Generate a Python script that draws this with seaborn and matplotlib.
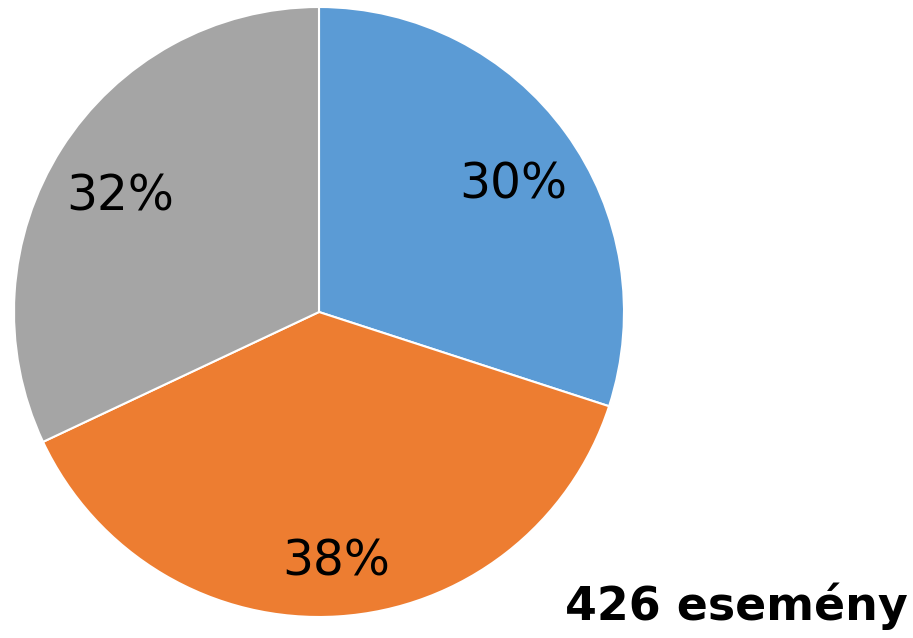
import matplotlib
matplotlib.use("Agg")
import matplotlib.pyplot as plt
import matplotlib.transforms as mtransforms
import seaborn as sns

sns.set_theme(style="white")
plt.rcParams['font.family'] = ['DejaVu Sans']

categories = ["A", "B", "C"]
values = [30, 38, 32]
colors = ["#5B9BD5", "#ED7D31", "#A5A5A5"]
total_label = "426 esemény"

fig = plt.figure(figsize=(9.13, 6.38), dpi=100)
ax = fig.add_axes([14/913, 21/638, 610/913, 610/638])
wedges, texts, autotexts = ax.pie(
    values, colors=colors, startangle=90, counterclock=False,
    autopct=lambda p: f"{p:.0f}%", pctdistance=0.78,
    wedgeprops=dict(edgecolor="white", linewidth=1.5),
    textprops=dict(fontsize=35, color="black"))
shift = mtransforms.offset_copy(ax.transData, fig=fig, x=2, y=-12, units="dots")
for t in autotexts:
    t.set_transform(shift)
ax.set_xlim(-1, 1)
ax.set_ylim(-1, 1)
ax.set_aspect("equal")
ax.axis("off")

fig.text(908/913, 1 - 620/638, total_label, ha="right", va="baseline",
         fontsize=33, fontweight="bold", color="black")

fig.savefig("out.png", dpi=100)
